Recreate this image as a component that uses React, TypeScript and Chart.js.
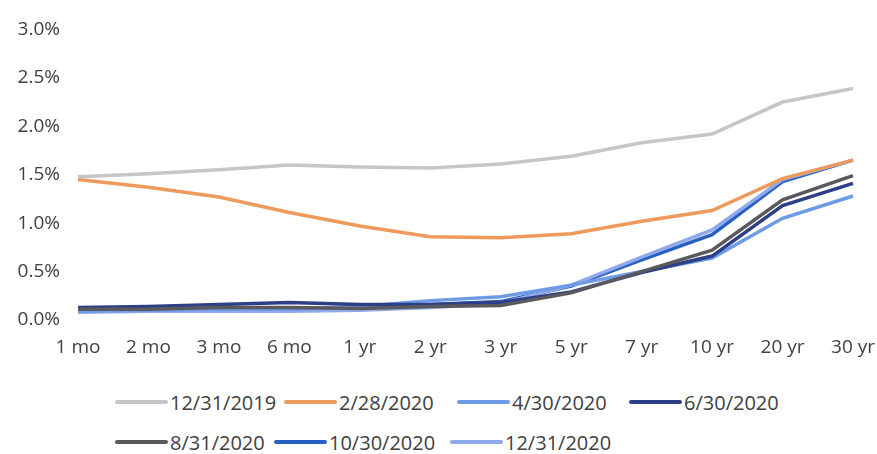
import React, { useEffect, useRef } from "react";
import { Chart, registerables } from "chart.js";

Chart.register(...registerables);

const maturities = ["1 mo", "2 mo", "3 mo", "6 mo", "1 yr", "2 yr", "3 yr", "5 yr", "7 yr", "10 yr", "20 yr", "30 yr"];
const yTicks = [0, 0.5, 1, 1.5, 2, 2.5, 3];

const dec2019 = [1.48, 1.51, 1.55, 1.60, 1.58, 1.57, 1.61, 1.69, 1.83, 1.92, 2.25, 2.39];
const feb2020 = [1.45, 1.37, 1.27, 1.11, 0.97, 0.86, 0.85, 0.89, 1.02, 1.13, 1.46, 1.65];
const apr2020 = [0.09, 0.10, 0.11, 0.11, 0.14, 0.20, 0.24, 0.36, 0.50, 0.64, 1.05, 1.28];
const jun2020 = [0.13, 0.14, 0.16, 0.18, 0.16, 0.16, 0.18, 0.29, 0.49, 0.66, 1.18, 1.41];
const aug2020 = [0.11, 0.11, 0.13, 0.13, 0.12, 0.14, 0.15, 0.28, 0.50, 0.72, 1.24, 1.49];
const oct2020 = [0.09, 0.10, 0.10, 0.11, 0.13, 0.16, 0.19, 0.35, 0.62, 0.88, 1.43, 1.65];
const dec2020 = [0.08, 0.09, 0.09, 0.09, 0.10, 0.13, 0.17, 0.36, 0.65, 0.93, 1.45, 1.65];

const seriesNames = ["12/31/2019", "2/28/2020", "4/30/2020", "6/30/2020", "8/31/2020", "10/30/2020", "12/31/2020"];
const seriesData = [dec2019, feb2020, apr2020, jun2020, aug2020, oct2020, dec2020];
const seriesColors = ["#c6c6ca", "#ee9a5c", "#6d9be6", "#2d3f86", "#5a5a5e", "#2660c0", "#8fa9ec"];

// legend layout (row, left px)
const legendLayout = [
  [0, 115], [0, 284], [0, 457], [0, 629],
  [1, 115], [1, 274], [1, 450],
];

const FONT = "'Open Sans', 'Noto Sans', sans-serif";
const TEXT = "#404040";

export default function App() {
  const ref = useRef<HTMLCanvasElement | null>(null);

  useEffect(() => {
    document.body.style.margin = "0";
    const ctx = ref.current!;
    const order = [0, 1, 4, 3, 2, 6, 5];
    const chart = new Chart(ctx, {
      type: "line",
      data: {
        labels: maturities,
        datasets: order.map((i) => ({
          label: seriesNames[i],
          data: seriesData[i],
          borderColor: seriesColors[i],
          backgroundColor: seriesColors[i],
          borderWidth: 3.5,
          pointRadius: 0,
          tension: 0,
          fill: false,
        })),
      },
      options: {
        responsive: false,
        animation: false,
        layout: { padding: { left: 8, right: 24, top: 24, bottom: 5 } },
        plugins: { legend: { display: false }, tooltip: { enabled: false } },
        scales: {
          x: {
            offset: false,
            grid: { display: false, drawTicks: false },
            border: { display: false },
            ticks: { color: TEXT, font: { family: FONT, size: 19 }, padding: 16, maxRotation: 0, autoSkip: false },
            afterFit: (s: any) => {
              s.height = 45;
              s.paddingLeft = 0;
              s.paddingRight = 0;
            },
          },
          y: {
            min: 0,
            max: 3,
            afterBuildTicks: (s: any) => {
              s.ticks = yTicks.map((v) => ({ value: v }));
            },
            grid: { display: false, drawTicks: false },
            border: { display: false },
            ticks: {
              color: TEXT,
              font: { family: FONT, size: 19 },
              padding: 18,
              callback: (v: any) => Number(v).toFixed(1) + "%",
            },
            afterFit: (s: any) => {
              s.width = 70;
            },
          },
        },
      },
    });
    return () => chart.destroy();
  }, []);

  return (
    <div style={{ position: "relative", width: 877, height: 454, background: "#fff", fontFamily: FONT }}>
      <canvas ref={ref} width={877} height={370} style={{ display: "block" }} />
      {seriesNames.map((name, i) => {
        const [row, left] = legendLayout[i];
        return (
          <div
            key={name}
            style={{
              position: "absolute",
              left,
              top: row === 0 ? 389 : 429,
              height: 26,
              display: "flex",
              alignItems: "center",
              whiteSpace: "nowrap",
              color: TEXT,
              fontSize: 20,
            }}
          >
            <span style={{ display: "inline-block", width: 53, height: 4, background: seriesColors[i], borderRadius: 2, marginRight: 2 }} />
            <span>{name}</span>
          </div>
        );
      })}
    </div>
  );
}
